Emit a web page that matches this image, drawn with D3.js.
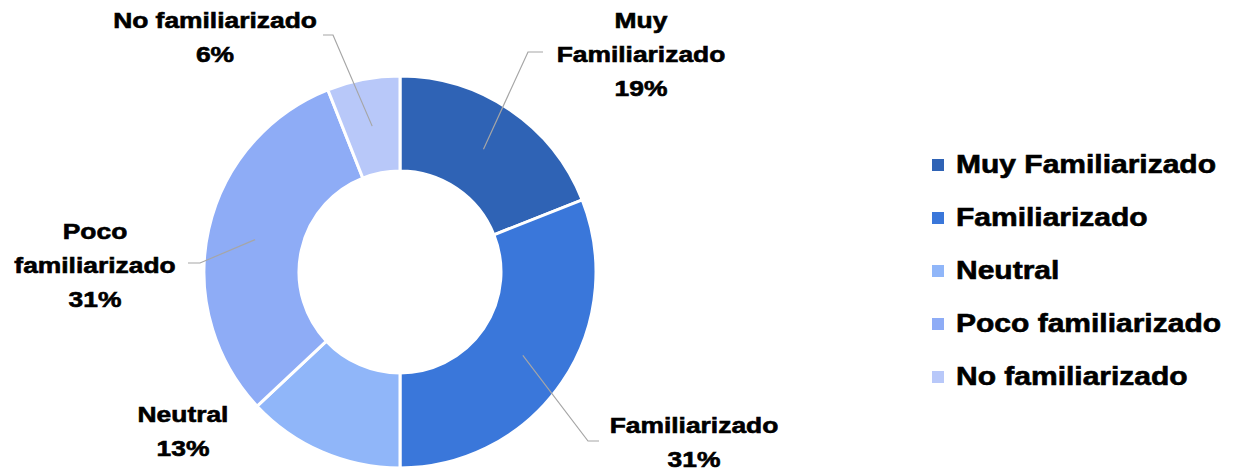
<!DOCTYPE html>
<html>
<head>
<meta charset="utf-8">
<script src="https://cdn.jsdelivr.net/npm/d3@7/dist/d3.min.js"></script>
<style>
  html, body { margin: 0; padding: 0; background: #fff; }
  text { font-family: "Liberation Sans", Arial, sans-serif; font-weight: bold; fill: #000; stroke: #000; stroke-width: 0.6px; }
</style>
</head>
<body>
<svg id="chart"></svg>
<script>
// Chart data
const categories = ['Muy Familiarizado', 'Familiarizado', 'Neutral', 'Poco familiarizado', 'No familiarizado'];
const values = [19, 31, 13, 31, 6];
const colors = ['#2F63B5', '#3A77DA', '#90B6F9', '#8EACF6', '#B8C8F9'];
// label text lines for each slice (category part only)
const labelLines = [['Muy', 'Familiarizado'], ['Familiarizado'], ['Neutral'], ['Poco', 'familiarizado'], ['No familiarizado']];

const width = 1238;
const height = 473;
const cx = 400;
const cy = 272;
const outerR = 196;
const innerR = 101;
const xStretch = 1.2;

// where the label block sits (center x, baseline of first line) and the leader elbow
const labelLayout = [
  { x: 641, y: 28, elbow: [528, 52], end: [543, 52] },
  { x: 694, y: 433, elbow: [588, 441], end: [599, 441] },
  { x: 183, y: 422, elbow: null },
  { x: 95, y: 239, elbow: [200, 263], end: [188, 263] },
  { x: 215, y: 28, elbow: [333, 35], end: [323, 35] }
];

const svg = d3.select('#chart').attr('width', width).attr('height', height);

const data = categories.map((c, i) => ({ name: c, value: values[i], color: colors[i], lines: labelLines[i], layout: labelLayout[i] }));

const pie = d3.pie().sort(null).value((d) => d.value);
const arcs = pie(data);

const arc = d3.arc().innerRadius(innerR).outerRadius(outerR);

const g = svg.append('g').attr('transform', `translate(${cx},${cy})`);

g.selectAll('path.slice')
  .data(arcs)
  .enter()
  .append('path')
  .attr('class', 'slice')
  .attr('d', arc)
  .attr('fill', (d) => d.data.color)
  .attr('stroke', '#fff')
  .attr('stroke-width', 3);

// Leader lines (start at slice centroid)
arcs.forEach((d) => {
  const lay = d.data.layout;
  if (!lay.elbow) return;
  const c = arc.centroid(d);
  const pts = [[cx + c[0], cy + c[1]], lay.elbow, lay.end];
  svg.append('path')
    .attr('d', d3.line()(pts))
    .attr('fill', 'none')
    .attr('stroke', '#A6A6A6')
    .attr('stroke-width', 1.2);
});

// Data labels
const lineH = 34;
const labelSize = 22;
arcs.forEach((d) => {
  const lay = d.data.layout;
  const lines = d.data.lines.concat([d3.format('.0%')(d.data.value / d3.sum(values))]);
  lines.forEach((t, i) => {
    svg.append('text')
      .attr('transform', `translate(${lay.x},${lay.y + i * lineH}) scale(${xStretch},1)`)
      .attr('text-anchor', 'middle')
      .style('font-size', labelSize + 'px')
      .text(t);
  });
});

// Legend
const legendX = 932;
const legendY = 159;
const legendStep = 53;
const legend = svg.append('g');
data.forEach((d, i) => {
  const y = legendY + i * legendStep;
  legend.append('rect')
    .attr('x', legendX)
    .attr('y', y)
    .attr('width', 12)
    .attr('height', 12)
    .attr('fill', d.color);
  legend.append('text')
    .attr('transform', `translate(${legendX + 24},${y + 14}) scale(${xStretch},1)`)
    .style('font-size', '25px')
    .text(d.name);
});
</script>
</body>
</html>
